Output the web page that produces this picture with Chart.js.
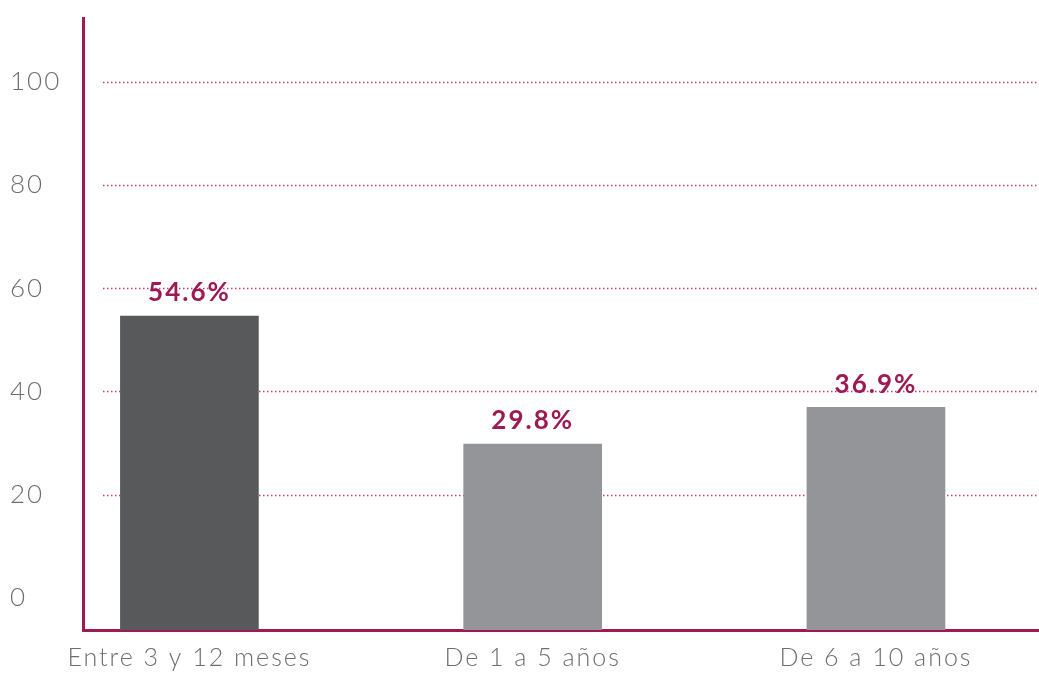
<!DOCTYPE html>
<html>
<head>
<meta charset="utf-8">
<script src="https://cdn.jsdelivr.net/npm/chart.js@4.4.1/dist/chart.umd.min.js"></script>
<style>
  html, body { margin: 0; padding: 0; background: #fff; }
  #wrap { position: relative; width: 1039px; height: 673px; }
</style>
</head>
<body>
<div id="wrap"><canvas id="chart"></canvas></div>
<script>
// Datos del gráfico
const categories = ['Entre 3 y 12 meses', 'De 1 a 5 años', 'De 6 a 10 años'];
const values = [54.6, 29.8, 36.9];
const barColors = ['#58595b', '#939598', '#939598'];
const yTicks = [0, 20, 40, 60, 80, 100];

// Colores
const crimson = '#9e1a55';
const gridColor = '#bf3f74';
const tickColor = '#6d6e71';

// Rango de ejes (el 0 queda un poco por encima de la línea base)
const yMin = -6.2;
const yMax = 112.2;
const xMin = -0.31;
const xMax = 2.475;

// espaciado de letras en el canvas
const spacingPlugin = {
    id: 'spacing',
    beforeLayout(chart) { chart.ctx.letterSpacing = '2px'; },
    beforeDraw(chart) { chart.ctx.letterSpacing = '2px'; }
};

// Líneas punteadas horizontales (empiezan un poco a la derecha del eje)
const dottedGrid = {
    id: 'dottedGrid',
    beforeDatasetsDraw(chart) {
        const ctx = chart.ctx;
        const y = chart.scales.y;
        const area = chart.chartArea;
        ctx.save();
        ctx.strokeStyle = gridColor;
        ctx.lineWidth = 1.5;
        ctx.setLineDash([1.5, 2.5]);
        yTicks.forEach(v => {
            if (v === 0) return;
            const py = Math.round(y.getPixelForValue(v)) + 0.5;
            ctx.beginPath();
            ctx.moveTo(area.left + 20, py);
            ctx.lineTo(area.right, py);
            ctx.stroke();
        });
        ctx.restore();
    }
};

// Etiquetas de valor encima de las barras
const valueLabels = {
    id: 'valueLabels',
    afterDatasetsDraw(chart) {
        const ctx = chart.ctx;
        const meta = chart.getDatasetMeta(0);
        ctx.save();
        ctx.letterSpacing = '2px';
        ctx.font = 'bold 26px Lato';
        ctx.fillStyle = crimson;
        ctx.textAlign = 'center';
        ctx.textBaseline = 'bottom';
        meta.data.forEach((bar, i) => {
            ctx.fillText(values[i].toFixed(1) + '%', bar.x, bar.y - 10);
        });
        ctx.restore();
    }
};

const ctx = document.getElementById('chart');
const chart = new Chart(ctx, {
    type: 'bar',
    data: {
        datasets: [{
            data: categories.map((c, i) => ({ x: i, y: values[i] })),
            backgroundColor: barColors,
            barThickness: 138,
            base: yMin,
            borderWidth: 0
        }]
    },
    options: {
        responsive: true,
        maintainAspectRatio: false,
        animation: false,
        layout: { padding: { top: 18, left: 10, right: 0, bottom: 0 } },
        plugins: {
            legend: { display: false },
            tooltip: { enabled: false }
        },
        scales: {
            x: {
                type: 'linear',
                offset: false,
                min: xMin,
                max: xMax,
                afterBuildTicks: axis => { axis.ticks = categories.map((c, i) => ({ value: i })); },
                afterFit: axis => { axis.height = 43; },
                grid: { display: false, drawTicks: false, offset: false },
                border: { display: true, color: crimson, width: 3 },
                ticks: {
                    padding: 13,
                    color: tickColor,
                    font: { family: 'Lato', size: 25, weight: '300' },
                    maxRotation: 0,
                    autoSkip: false,
                    callback: v => categories[v]
                }
            },
            y: {
                min: yMin,
                max: yMax,
                afterBuildTicks: axis => { axis.ticks = yTicks.map(v => ({ value: v })); },
                afterFit: axis => { axis.width = 73; },
                grid: { display: false, drawTicks: false },
                border: { display: true, color: crimson, width: 3 },
                ticks: {
                    crossAlign: 'far',
                    color: tickColor,
                    font: { family: 'Lato', size: 26, weight: '300' },
                    callback: v => String(v)
                }
            }
        }
    },
    plugins: [spacingPlugin, dottedGrid, valueLabels]
});
</script>
</body>
</html>
